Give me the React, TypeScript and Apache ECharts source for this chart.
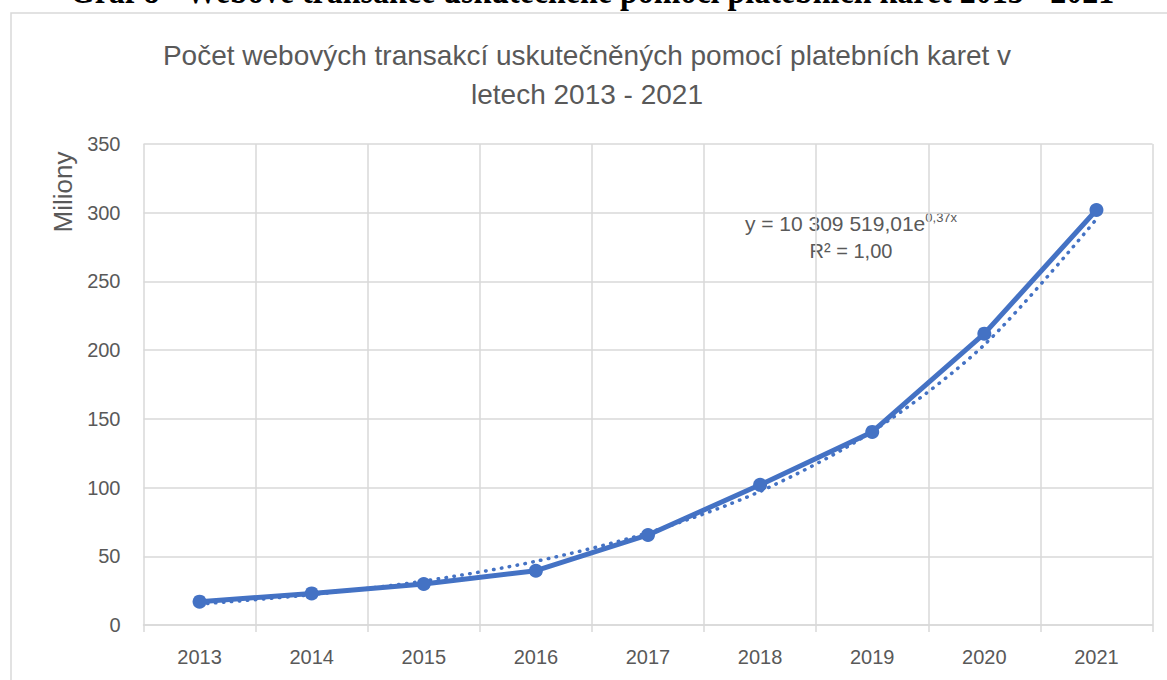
import React, { useEffect, useRef } from "react";
import * as echarts from "echarts";

const years = ["2013", "2014", "2015", "2016", "2017", "2018", "2019", "2020", "2021"];
const transactions = [17, 23, 29.8, 39.5, 65.5, 102, 140.5, 212, 302];
const yTicks = [0, 50, 100, 150, 200, 250, 300, 350];

// Exponential trendline fitted (least squares on ln y) to the data above
function expFit(vals: number[]) {
  const n = vals.length;
  const xs = vals.map((_, i) => i + 1);
  const ls = vals.map((v) => Math.log(v));
  const mx = xs.reduce((a, b) => a + b, 0) / n;
  const ml = ls.reduce((a, b) => a + b, 0) / n;
  let num = 0, den = 0;
  for (let i = 0; i < n; i++) {
    num += (xs[i] - mx) * (ls[i] - ml);
    den += (xs[i] - mx) * (xs[i] - mx);
  }
  const b = num / den;
  const a = Math.exp(ml - b * mx);
  return xs.map((x) => a * Math.exp(b * x));
}
const trend = expFit(transactions);

const GRAY = "#d9d9d9";
const TXT = "#595959";
const BLUE = "#4472C4";
const FONT = "'Liberation Sans', Arial, sans-serif";

export default function App() {
  const ref = useRef<HTMLDivElement>(null);
  useEffect(() => {
    if (!ref.current) return;
    const chart = echarts.init(ref.current, undefined, { renderer: "svg" });
    chart.setOption({
      animation: false,
      backgroundColor: "#ffffff",
      textStyle: { fontFamily: FONT },
      title: {
        text: "Počet webových transakcí uskutečněných pomocí platebních karet v\nletech 2013 - 2021",
        left: 582,
        textAlign: "center",
        top: 31,
        textStyle: { color: TXT, fontSize: 28, fontWeight: "normal", lineHeight: 39, fontFamily: FONT },
      },
      grid: { left: 143.5, right: 14.5, top: 144, bottom: 55, containLabel: false },
      xAxis: {
        type: "category",
        data: years,
        boundaryGap: true,
        axisLine: { show: true, lineStyle: { color: GRAY, width: 1.5 } },
        axisTick: { show: true, length: 7, lineStyle: { color: GRAY, width: 1.5 } },
        splitLine: { show: true, lineStyle: { color: GRAY, width: 1.5 } },
        axisLabel: { color: TXT, fontSize: 20, margin: 22, fontFamily: FONT },
      },
      yAxis: {
        type: "value",
        min: 0,
        max: 350,
        interval: 50,
        axisLine: { show: false },
        axisTick: { show: false },
        splitLine: { show: true, lineStyle: { color: GRAY, width: 1.5 } },
        axisLabel: {
          color: TXT,
          fontSize: 20,
          margin: 23,
          fontFamily: FONT,
          formatter: (v: number) => (yTicks.indexOf(v) >= 0 ? String(v) : ""),
        },
      },
      series: [
        {
          type: "line",
          data: trend,
          symbol: "none",
          smooth: 0.3,
          lineStyle: { color: BLUE, width: 3.5, type: [0.5, 7.5], cap: "round" },
          z: 2,
        },
        {
          type: "line",
          data: transactions,
          symbol: "circle",
          symbolSize: 14,
          itemStyle: { color: BLUE },
          lineStyle: { color: BLUE, width: 5 },
          z: 3,
        },
      ],
      graphic: [
        {
          type: "rect",
          shape: { x: 11, y: 13, width: 1200, height: 720 },
          style: { fill: "none", stroke: GRAY, lineWidth: 1.5 },
          z: 0,
          silent: true,
        },
        {
          type: "text",
          x: 592,
          y: 12,
          style: {
            text: "Graf 8 - Webové transakce uskutečněné pomocí platebních karet 2013 - 2021",
            font: "bold 32px 'Liberation Serif', 'Times New Roman', serif",
            fill: "#000000",
            align: "center",
            verticalAlign: "bottom",
          },
          scaleY: 1.2,
          originY: 12,
        },
        {
          type: "text",
          x: 63,
          y: 192,
          rotation: Math.PI / 2,
          style: {
            text: "Miliony",
            font: "26px 'Liberation Sans', Arial, sans-serif",
            fill: TXT,
            align: "center",
            verticalAlign: "middle",
          },
        },
        {
          type: "text",
          x: 851,
          y: 222,
          style: {
            text: "{m|y = 10 309 519,01e}{s|0,37x}",
            align: "center",
            verticalAlign: "middle",
            rich: {
              m: { fontSize: 21, fill: TXT, fontFamily: FONT, verticalAlign: "bottom" },
              s: { fontSize: 13, fill: TXT, fontFamily: FONT, verticalAlign: "top", padding: [0, 0, 10, 0] },
            },
          },
        },
        {
          type: "text",
          x: 851,
          y: 251,
          style: {
            text: "R² = 1,00",
            font: "20px 'Liberation Sans', Arial, sans-serif",
            fill: TXT,
            align: "center",
            verticalAlign: "middle",
          },
        },
      ],
    });
    return () => chart.dispose();
  }, []);
  return (
    <div
      ref={ref}
      style={{ position: "absolute", left: 0, top: 0, width: 1167, height: 680 }}
    />
  );
}
